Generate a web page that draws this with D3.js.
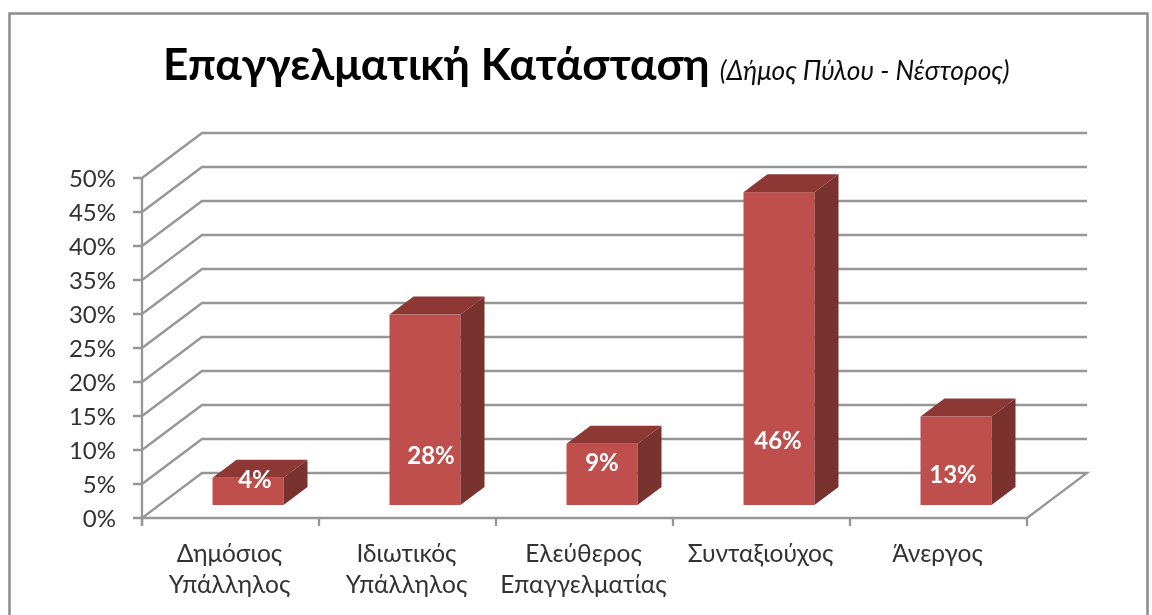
<!DOCTYPE html>
<html><head><meta charset="utf-8">
<script src="https://cdn.jsdelivr.net/npm/d3@7/dist/d3.min.js"></script>
<style>html,body{margin:0;padding:0;background:#fff;overflow:hidden}svg{display:block}</style>
</head><body><svg id="c" width="1152" height="615"></svg>
<script>
const categories=[["Δημόσιος","Υπάλληλος"],["Ιδιωτικός","Υπάλληλος"],["Ελεύθερος","Επαγγελματίας"],["Συνταξιούχος"],["Άνεργος"]];
const values=[4,28,9,46,13];
const valueLabels=["4%","28%","9%","46%","13%"];
const tickValues=[0,5,10,15,20,25,30,35,40,45,50];
const labelNudgeX=[7,6,0,-1,-3];
const labelCenterY=[480,456,463,441,475];
const font="Lato,'Open Sans','Noto Sans',sans-serif";
const svg=d3.select("#c");
svg.append("defs").append("filter").attr("id","soft").append("feGaussianBlur").attr("stdDeviation",0.45);
const g=svg.append("g").attr("filter","url(#soft)");
g.append("path").attr("d","M9.5,615V13.5H1147.5V615").attr("fill","none").attr("stroke","#8c8c8c").attr("stroke-width",2.5);
const y=d3.scaleLinear().domain([0,50]).range([518,178]);
const x=d3.scaleBand().domain(d3.range(categories.length)).range([142,1027]);
const DX=60,DY=-45, barDX=24,barDY=-18, baseDX=17.5,baseDY=-13, barW=71;
const grid="#969696";
tickValues.forEach(t=>{
  g.append("path").attr("d",`M133,${y(t)}H142L${142+DX},${y(t)+DY}H${1027+DX}`).attr("fill","none").attr("stroke",grid).attr("stroke-width",t===0?0:2.3);
});
g.append("path").attr("d",`M133,${y(0)}H${1027}L${1027+DX},${y(0)+DY}H${142+DX}L142,${y(0)}`).attr("fill","none").attr("stroke",grid).attr("stroke-width",2.3);
g.append("line").attr("x1",142).attr("x2",142).attr("y1",y(50)).attr("y2",y(0)+8).attr("stroke",grid).attr("stroke-width",2.3);
d3.range(categories.length+1).forEach(i=>{
  const px=i<categories.length?x(i):x.range()[1];
  g.append("line").attr("x1",px).attr("x2",px).attr("y1",y(0)).attr("y2",y(0)+8).attr("stroke",grid).attr("stroke-width",2.3);
});
g.selectAll("text.yt").data(tickValues).join("text").attr("class","yt")
 .attr("x",116).attr("y",d=>y(d)+9).attr("text-anchor","end").attr("font-family",font).attr("font-size",24).attr("fill","#333").text(d=>d+"%");
values.forEach((v,i)=>{
  const left=x(i)+(x.bandwidth()-barW)/2+baseDX, right=left+barW;
  const bot=y(0)+baseDY, top=bot-(y(0)-y(v));
  g.append("rect").attr("x",left).attr("y",top).attr("width",barW).attr("height",bot-top).attr("fill","#bf504d");
  g.append("path").attr("d",`M${left},${top}l${barDX},${barDY}H${right+barDX}L${right},${top}Z`).attr("fill","#8e3836");
  g.append("path").attr("d",`M${right},${top}l${barDX},${barDY}V${bot+barDY}L${right},${bot}Z`).attr("fill","#7a302e");
  g.append("text").attr("x",left+barW/2+labelNudgeX[i]).attr("y",labelCenterY[i]+8).attr("text-anchor","middle")
    .attr("font-family",font).attr("font-weight",700).attr("font-size",24).attr("fill","#fff").text(valueLabels[i]);
  categories[i].forEach((line,k)=>{
    g.append("text").attr("x",x(i)+x.bandwidth()/2-1).attr("y",562+k*31).attr("text-anchor","middle")
     .attr("font-family",font).attr("font-size",24.5).attr("fill","#333").text(line);
  });
});
const title=g.append("text").attr("x",163).attr("y",80).attr("font-family",font).attr("fill","#000");
title.append("tspan").attr("font-weight",700).attr("font-size",44).text("Επαγγελματική Κατάσταση");
title.append("tspan").attr("dx",10).attr("font-style","italic").attr("font-size",26.3).attr("fill","#111").text("(Δήμος Πύλου - Νέστορος)");
</script></body></html>
